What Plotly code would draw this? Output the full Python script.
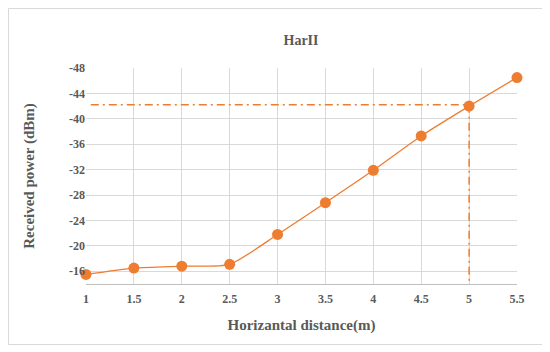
import plotly.graph_objects as go

# Data
distance = [1, 1.5, 2, 2.5, 3, 3.5, 4, 4.5, 5, 5.5]
power = [-15.5, -16.5, -16.8, -17.1, -21.8, -26.8, -31.9, -37.3, -42.0, -46.5]
ref_h_x = [1.05, 5]
ref_h_y = [-42.2, -42.2]
ref_v_x = [5, 5]
ref_v_y = [-42.2, -14]
x_ticks = [1, 1.5, 2, 2.5, 3, 3.5, 4, 4.5, 5, 5.5]
x_ticktext = ["1", "1.5", "2", "2.5", "3", "3.5", "4", "4.5", "5", "5.5"]
y_ticks = [-16, -20, -24, -28, -32, -36, -40, -44, -48]

orange = "#ED7D31"
gray_text = "#595959"
font_fam = "Liberation Serif, Times New Roman, serif"

fig = go.Figure()
fig.add_trace(go.Scatter(x=ref_h_x, y=ref_h_y, mode="lines",
                         line=dict(color=orange, width=1.5, dash="8px,4px,2px,4px"),
                         hoverinfo="skip", showlegend=False))
fig.add_trace(go.Scatter(x=ref_v_x, y=ref_v_y, mode="lines",
                         line=dict(color=orange, width=1.5, dash="8px,4px,2px,4px"),
                         hoverinfo="skip", showlegend=False))
fig.add_trace(go.Scatter(x=distance, y=power, mode="lines+markers",
                         line=dict(color=orange, width=1.3, shape="spline", smoothing=0.6),
                         marker=dict(color=orange, size=11),
                         cliponaxis=False, showlegend=False))

# page has an 8px body margin, so figure coordinates are page coordinates - 8
W, H = 542, 344
L, R, T, B = 78, 33, 60, 68
pw, ph = W - L - R, H - T - B

def px_to_paper_x(px):
    return (px - L) / pw

def px_to_paper_y(py):
    return (H - B - py) / ph

fig.add_shape(type="rect", xref="paper", yref="paper",
              x0=px_to_paper_x(0.5), x1=px_to_paper_x(535.5),
              y0=px_to_paper_y(336.5), y1=px_to_paper_y(0.5),
              line=dict(color="#D9D9D9", width=1), layer="below")

fig.update_layout(
    width=W, height=H,
    margin=dict(l=L, r=R, t=T, b=B, autoexpand=False),
    paper_bgcolor="white", plot_bgcolor="white",
    title=dict(text="<b>HarII</b>", x=293 / W, xanchor="center",
               y=1 - 32 / H, yanchor="middle",
               font=dict(family=font_fam, size=14, color=gray_text)),
    font=dict(family=font_fam, color=gray_text),
    xaxis=dict(range=[1, 5.5], tickvals=x_ticks, ticktext=["<b>%s</b>" % t for t in x_ticktext],
               showgrid=True, gridcolor="#D9D9D9", gridwidth=1, automargin=False,
               zeroline=False, showline=True, linecolor="#BFBFBF", linewidth=1,
               ticks="outside", ticklen=4, tickcolor="rgba(0,0,0,0)",
               tickfont=dict(size=12, color=gray_text, family=font_fam),
               title=dict(text="<b>Horizantal distance(m)</b>", standoff=14,
                          font=dict(size=15, color=gray_text, family=font_fam))),
    yaxis=dict(range=[-14, -48], tickvals=y_ticks,
               ticktext=["<b>%d</b>" % v for v in y_ticks],
               showgrid=True, gridcolor="#D9D9D9", gridwidth=1, automargin=False,
               zeroline=False, showline=False, ticks="", ticklen=0,
               tickfont=dict(size=12, color=gray_text, family=font_fam),
               title=dict(text="<b>Received power (dBm)</b>", standoff=30,
                          font=dict(size=15, color=gray_text, family=font_fam))),
)

fig.write_html("out.html")
